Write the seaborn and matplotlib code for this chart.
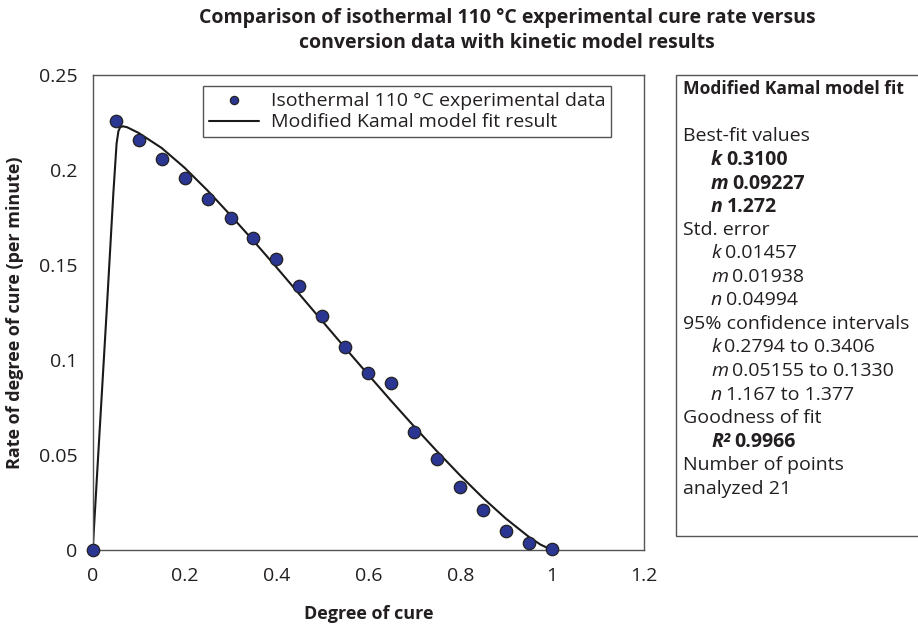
import matplotlib
matplotlib.use("Agg")
import matplotlib.pyplot as plt
from matplotlib.patches import Rectangle
import numpy as np
import pandas as pd
import seaborn as sns

# ---------------- data ----------------
degree_of_cure = [0.00, 0.05, 0.10, 0.15, 0.20, 0.25, 0.30, 0.35, 0.40, 0.45, 0.50,
                  0.55, 0.60, 0.65, 0.70, 0.75, 0.80, 0.85, 0.90, 0.95, 1.00]
cure_rate = [0.000, 0.226, 0.216, 0.206, 0.196, 0.185, 0.175, 0.164, 0.153, 0.139, 0.123,
             0.107, 0.093, 0.088, 0.062, 0.048, 0.033, 0.021, 0.010, 0.0035, 0.0005]

model_x = [0.000, 0.012, 0.030, 0.045, 0.052, 0.056, 0.060, 0.066, 0.075, 0.100, 0.150,
           0.200, 0.250, 0.300, 0.350, 0.400, 0.450, 0.500, 0.550, 0.600, 0.650,
           0.700, 0.750, 0.800, 0.850, 0.900, 0.950, 0.975, 1.000]
model_y = [0.000, 0.050, 0.124, 0.188, 0.214, 0.2205, 0.2226, 0.2230, 0.2225, 0.2195, 0.2116,
           0.2012, 0.1892, 0.1762, 0.1627, 0.1488, 0.1346, 0.1204, 0.1062, 0.0922, 0.0784,
           0.0649, 0.0518, 0.0392, 0.0273, 0.0164, 0.0068, 0.0028, 0.000]

x_ticks = [0, 0.2, 0.4, 0.6, 0.8, 1.0, 1.2]
x_tick_labels = ["0", "0.2", "0.4", "0.6", "0.8", "1", "1.2"]
y_ticks = [0, 0.05, 0.10, 0.15, 0.20, 0.25]
y_tick_labels = ["0", "0.05", "0.1", "0.15", "0.2", "0.25"]

title_lines = ["Comparison of isothermal 110 \u00b0C experimental cure rate versus",
               "conversion data with kinetic model results"]
x_label = "Degree of cure"
y_label = "Rate of degree of cure (per minute)"
series_labels = ["Isothermal 110 \u00b0C experimental data", "Modified Kamal model fit result"]

panel_title = "Modified Kamal model fit"
# (indent, symbol, body, bold)
panel_lines = [
    (0, "", "Best-fit values", False),
    (1, "k", "0.3100", True),
    (1, "m", "0.09227", True),
    (1, "n", "1.272", True),
    (0, "", "Std. error", False),
    (1, "k", "0.01457", False),
    (1, "m", "0.01938", False),
    (1, "n", "0.04994", False),
    (0, "", "95% confidence intervals", False),
    (1, "k", "0.2794 to 0.3406", False),
    (1, "m", "0.05155 to 0.1330", False),
    (1, "n", "1.167 to 1.377", False),
    (0, "", "Goodness of fit", False),
    (1, "R\u00b2", "0.9966", True),
    (0, "", "Number of points", False),
    (0, "", "analyzed 21", False),
]

# ---------------- style ----------------
sns.set_theme(style="white")
plt.rcParams["font.family"] = ["Open Sans", "DejaVu Sans"]
TXT = "#231f20"
FS = 14

W, H = 918, 629
fig = plt.figure(figsize=(W / 100, H / 100), dpi=100)
ax_l, ax_r, ax_t, ax_b = 92.7, 644.0, 75.0, 550.0
ax = fig.add_axes([ax_l / W, 1 - ax_b / H, (ax_r - ax_l) / W, (ax_b - ax_t) / H])

df_pts = pd.DataFrame({"x": degree_of_cure, "y": cure_rate})
df_mod = pd.DataFrame({"x": model_x, "y": model_y})

sns.lineplot(data=df_mod, x="x", y="y", ax=ax, color="#1a1a1a", linewidth=1.5,
             estimator=None, sort=False, label=series_labels[1], zorder=2)
sns.scatterplot(data=df_pts, x="x", y="y", ax=ax, s=80, color="#2B3592",
                edgecolor="#222222", linewidth=0.9, label=series_labels[0],
                zorder=3, clip_on=False)

ax.set_xlim(0, 1.2)
ax.set_ylim(0, 0.25)
ax.set_xticks(x_ticks, x_tick_labels)
ax.set_yticks(y_ticks, y_tick_labels)
ax.tick_params(axis="both", length=0, labelsize=FS, colors=TXT)
ax.tick_params(axis="x", pad=12)
ax.tick_params(axis="y", pad=11)
for sp in ax.spines.values():
    sp.set_visible(True)
    sp.set_color("#555555")
    sp.set_linewidth(1.0)

ax.set_xlabel(x_label, fontsize=FS - 1, fontweight="bold", color=TXT)
ax.set_ylabel(y_label, fontsize=FS - 1, fontweight="bold", color=TXT)
ax.xaxis.set_label_coords(0.5, -0.115)
ax.yaxis.set_label_coords(-0.125, 0.5)

handles, labels = ax.get_legend_handles_labels()
order = [labels.index(series_labels[0]), labels.index(series_labels[1])]
leg = ax.legend([handles[i] for i in order], [labels[i] for i in order],
                loc="upper left", bbox_to_anchor=((202.7 - ax_l) / (ax_r - ax_l),
                                                  (ax_b - 85.7) / (ax_b - ax_t)),
                borderaxespad=0, fontsize=FS, frameon=True, fancybox=False,
                edgecolor="#555555", framealpha=1, handlelength=2.6,
                handletextpad=0.6, labelspacing=0.2, borderpad=0.3)
leg.get_frame().set_linewidth(1.0)
for t in leg.get_texts():
    t.set_color(TXT)
leg.legend_handles[0].set_sizes([35])

# ---------------- title ----------------
fig.text(507 / W, 1 - 18 / H, title_lines[0], ha="center", va="center",
         fontsize=14, fontweight="bold", color=TXT)
fig.text(507 / W, 1 - 43 / H, title_lines[1], ha="center", va="center",
         fontsize=14, fontweight="bold", color=TXT)

# ---------------- side panel ----------------
fig.add_artist(Rectangle((676 / W, 1 - 536 / H), (930 - 676) / W, (536 - 75) / H,
                         transform=fig.transFigure, fill=False,
                         edgecolor="#555555", linewidth=1.0))
x0, x1 = 683 / W, 711 / W
y_first, dy = 87, 23.5
fig.text(x0, 1 - y_first / H, panel_title, ha="left", va="center_baseline",
         fontsize=12.6, fontweight="bold", color=TXT)

fig.canvas.draw()
renderer = fig.canvas.get_renderer()
for i, (indent, sym, body, bold) in enumerate(panel_lines):
    y = 1 - (y_first + (i + 2) * dy) / H
    x = x1 if indent else x0
    w = "bold" if bold else "normal"
    if sym:
        st = fig.text(x, y, sym, ha="left", va="center_baseline", fontsize=FS,
                      fontstyle="italic", fontweight=w, color=TXT)
        bb = st.get_window_extent(renderer=renderer)
        x = (bb.x1 + 4) / W
    fig.text(x, y, body, ha="left", va="center_baseline", fontsize=FS,
             fontweight=w, color=TXT)

fig.savefig("out.png", dpi=100)
